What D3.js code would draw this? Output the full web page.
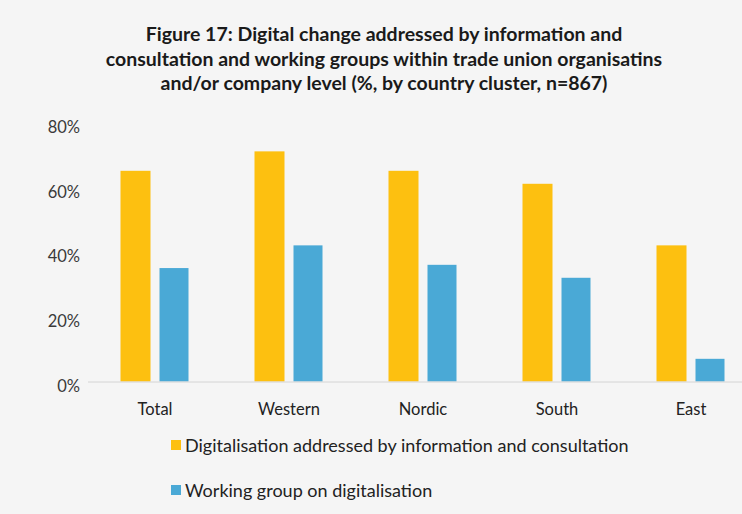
<!DOCTYPE html>
<html>
<head>
<meta charset="utf-8">
<script src="https://cdn.jsdelivr.net/npm/d3@7"></script>
<style>
  body { margin: 0; background: #f5f5f5; }
  svg { display: block; font-family: Lato, "Open Sans", sans-serif; }
</style>
</head>
<body>
<div id="vis"></div>
<script>
var categories = ['Total', 'Western', 'Nordic', 'South', 'East'];
var infoConsult = [65, 71, 65, 61, 42];
var workingGroup = [35, 42, 36, 32, 7];
var seriesNames = ['Digitalisation addressed by information and consultation', 'Working group on digitalisation'];
var yTicks = [0, 20, 40, 60, 80];
var titleLines = [
    'Figure 17: Digital change addressed by information and',
    'consultation and working groups within trade union organisatins',
    'and/or company level (%, by country cluster, n=867)'
];

var colors = ['#fdc010', '#4aa9d6'];

var svg = d3.select('#vis')
    .append('svg')
    .attr('width', 742)
    .attr('height', 514);

svg.append('rect')
    .attr('width', 742)
    .attr('height', 514)
    .attr('fill', '#f5f5f5');

// title
svg.selectAll('.title')
    .data(titleLines)
    .enter().append('text')
    .attr('class', 'title')
    .attr('x', 384)
    .attr('y', function(d, i) { return 41 + i * 24.5; })
    .attr('text-anchor', 'middle')
    .attr('font-size', 19.5)
    .attr('font-weight', 'bold')
    .attr('fill', '#1a1a1a')
    .text(function(d) { return d; });

var xScale = d3.scaleBand()
    .domain(categories)
    .range([88, 758])
    .paddingInner(0)
    .paddingOuter(0);

var yScale = d3.scaleLinear()
    .domain([0, 80])
    .range([381.5, 122.2]);

var barW = 30, barGap = 9;

// y tick labels
svg.selectAll('.ytick')
    .data(yTicks)
    .enter().append('text')
    .attr('class', 'ytick')
    .attr('x', 80)
    .attr('y', function(d) { return yScale(d) + 10.5; })
    .attr('text-anchor', 'end')
    .attr('font-size', 16.5)
    .attr('fill', '#3a3a3a')
    .text(function(d) { return d + '%'; });

// bars
var groups = svg.selectAll('.grp')
    .data(categories)
    .enter().append('g')
    .attr('class', 'grp')
    .attr('transform', function(d) {
        return 'translate(' + (xScale(d) + xScale.bandwidth() / 2) + ',0)';
    });

groups.append('rect')
    .attr('x', -(barW + barGap / 2))
    .attr('width', barW)
    .attr('y', function(d, i) { return yScale(infoConsult[i]); })
    .attr('height', function(d, i) { return yScale(0) - yScale(infoConsult[i]); })
    .attr('fill', colors[0]);

groups.append('rect')
    .attr('x', barGap / 2)
    .attr('width', barW - 1)
    .attr('y', function(d, i) { return yScale(workingGroup[i]); })
    .attr('height', function(d, i) { return yScale(0) - yScale(workingGroup[i]); })
    .attr('fill', colors[1]);

// baseline
svg.append('line')
    .attr('x1', 88)
    .attr('x2', 742)
    .attr('y1', yScale(0) + 0.5)
    .attr('y2', yScale(0) + 0.5)
    .attr('stroke', '#d4d4d4')
    .attr('stroke-width', 1);

// category labels
groups.append('text')
    .attr('y', 415)
    .attr('text-anchor', 'middle')
    .attr('font-size', 16.5)
    .attr('fill', '#222')
    .text(function(d) { return d; });

// legend
var legend = svg.selectAll('.leg')
    .data(seriesNames)
    .enter().append('g')
    .attr('class', 'leg')
    .attr('transform', function(d, i) { return 'translate(171,' + (440 + i * 45) + ')'; });

legend.append('rect')
    .attr('width', 10)
    .attr('height', 10)
    .attr('fill', function(d, i) { return colors[i]; });

legend.append('text')
    .attr('x', 14)
    .attr('y', 11.5)
    .attr('font-size', 18)
    .attr('fill', '#222')
    .text(function(d) { return d; });
</script>
</body>
</html>
